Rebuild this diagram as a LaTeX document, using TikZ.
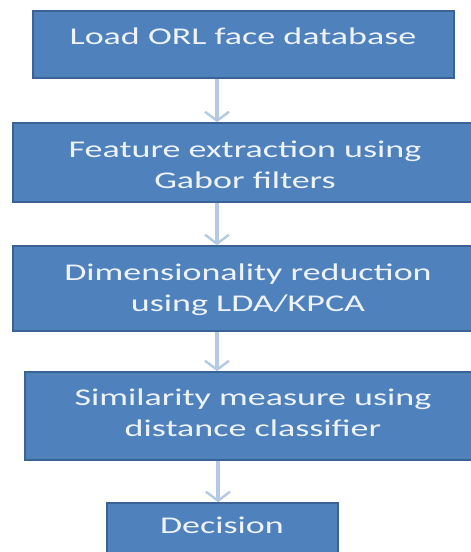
\documentclass[tikz,border=0pt]{standalone}
\usepackage{fontspec}
\newfontfamily\boxfont[FakeStretch=1.5]{Carlito}
\usetikzlibrary{arrows.meta,shadows}
\definecolor{boxfill}{HTML}{4F81BD}
\definecolor{boxline}{HTML}{3A6395}
\definecolor{arrowc}{HTML}{B4C9E3}
\definecolor{txtc}{HTML}{EEF3FA}
\tikzset{
  stepbox/.style={rectangle, fill=boxfill, draw=boxline, line width=1.6pt,
    drop shadow={shadow xshift=-0.8pt, shadow yshift=-1.2pt, fill=black!45, opacity=0.45}},
  boxtext/.style={text=txtc, font=\boxfont\fontsize{24}{31}\selectfont, align=center, anchor=base, inner sep=0pt},
  conn/.style={draw=arrowc, line width=3.2pt, -{Straight Barb[length=9pt,width=24pt,line width=2.4pt]}}
}
\begin{document}
\begin{tikzpicture}[x=1pt,y=-1pt]
\clip (0,0) rectangle (471,552);
\fill[white] (0,0) rectangle (471,552);
% boxes
\node[stepbox, minimum width=421pt, minimum height=67pt] (b1) at (243.5,44.5) {};
\node[stepbox, minimum width=464pt, minimum height=79pt] (b2) at (245,162.5) {};
\node[stepbox, minimum width=470pt, minimum height=85pt] (b3) at (248,288.5) {};
\node[stepbox, minimum width=456pt, minimum height=88pt] (b4) at (253,416) {};
\node[stepbox, minimum width=231pt, minimum height=67pt] (b5) at (222.5,536.5) {};
% texts (base anchor = baseline of last line)
\node[boxtext] (t1) at (243,44) {Load ORL face database};
\node[boxtext] (t2) at (245,188) {Feature extraction using\\Gabor filters};
\node[boxtext] (t3) at (248,311) {Dimensionality reduction\\using LDA/KPCA};
\node[boxtext] (t4) at (253,436) {Similarity measure using\\distance classifier};
\node[boxtext] (t5) at (222,533) {Decision};
% connectors
\coordinate (ax) at (217,0);
\draw[conn] (b1.south -| ax) -- (b2.north -| ax);
\draw[conn] (b2.south -| ax) -- (b3.north -| ax);
\draw[conn] (b3.south -| ax) -- (b4.north -| ax);
\draw[conn] ([xshift=1pt]b4.south -| ax) -- ([xshift=1pt]b5.north -| ax);
\end{tikzpicture}
\end{document}
